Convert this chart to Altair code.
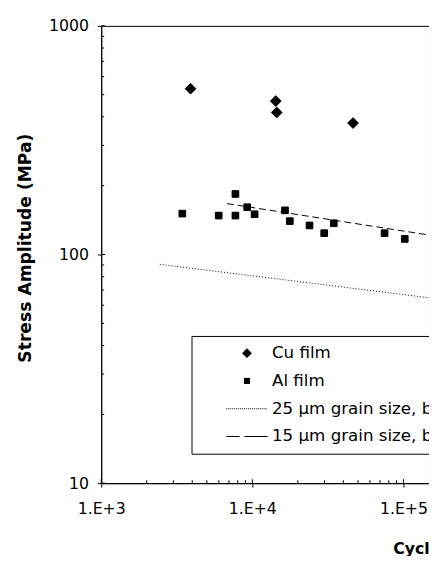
import altair as alt
import pandas as pd

# ---- data ----
cu_cycles = [3900, 14300, 14500, 46400]
cu_stress = [531, 469, 418, 376]
al_cycles = [3440, 5990, 7730, 7730, 9250, 10350, 16450, 17700, 23900, 29900, 34600, 75000, 102000]
al_stress = [151, 148, 184, 148, 161, 150, 156, 140, 134, 124, 137, 124, 117]
g25_cycles = [2440, 1000000]
g25_stress = [90.6, 55.3]
g15_cycles = [6800, 1000000]
g15_stress = [167, 100]
series_names = ["Cu film", "Al film", "25 µm grain size, bulk Cu", "15 µm grain size, bulk Al"]
x_ticks = [1e3, 1e4, 1e5]
y_ticks = [10, 100, 1000]
x_minor = [2e3, 3e3, 4e3, 5e3, 6e3, 7e3, 8e3, 9e3, 2e4, 3e4, 4e4, 5e4, 6e4, 7e4, 8e4, 9e4]
y_minor = [20, 30, 40, 50, 60, 70, 80, 90, 200, 300, 400, 500, 600, 700, 800, 900]

# ---- styling ----
W, H = 334, 466
FONT = "DejaVu Sans"

def seg_path(segs, h=0.1):
    return "".join(
        f"M{a:.2f},{-h}L{b:.2f},{-h}L{b:.2f},{h}L{a:.2f},{h}Z" for a, b in segs
    )

diamond = "M0,-1L1,0L0,1L-1,0Z"
square = "M-0.62,-0.62L0.62,-0.62L0.62,0.62L-0.62,0.62Z"
dotted = seg_path([(-4.2 + i * 0.4, -4.0 + i * 0.4) for i in range(21)])
dashed = seg_path([(-4.2, -1.5), (-0.5, 4.2)])

pts = pd.DataFrame({
    "cycles": cu_cycles + al_cycles,
    "stress": cu_stress + al_stress,
    "series": [series_names[0]] * len(cu_cycles) + [series_names[1]] * len(al_cycles),
})
l25 = pd.DataFrame({"cycles": g25_cycles, "stress": g25_stress})
l15 = pd.DataFrame({"cycles": g15_cycles, "stress": g15_stress})
xmin = pd.DataFrame({"cycles": x_minor})
xmaj = pd.DataFrame({"cycles": x_ticks})
ymin = pd.DataFrame({"stress": y_minor})
ymaj = pd.DataFrame({"stress": y_ticks})

xscale = alt.Scale(type="log", domain=[1000, 147600], nice=False)
yscale = alt.Scale(type="log", domain=[10, 1000], nice=False)

xaxis = alt.Axis(
    title="Cycles to Failure", values=x_ticks,
    labelExpr="'1.E+' + round(log(datum.value)/LN10)",
    labelFont=FONT, labelFontSize=16, labelBaseline="alphabetic", labelPadding=27,
    titleFont=FONT, titleFontSize=16, titleFontWeight="bold",
    titleX=297, titleY=72, titleAlign="left", titleAnchor="start", titleBaseline="alphabetic",
    tickSize=4, grid=False, labelFlush=False, labelOverlap=False,
)
yaxis = alt.Axis(
    title="Stress Amplitude (MPa)", values=y_ticks, format="d",
    labelFont=FONT, labelFontSize=16, labelPadding=9,
    titleFont=FONT, titleFontSize=17.5, titleFontWeight="bold",
    titleX=-72, titleY=226, titleAngle=270, titleAlign="center", titleBaseline="alphabetic",
    tickSize=4, grid=False, labelFlush=False, labelOverlap=False,
)

X = alt.X("cycles:Q", scale=xscale, axis=xaxis)
Y = alt.Y("stress:Q", scale=yscale, axis=yaxis)

points = alt.Chart(pts).mark_point(
    filled=False, fill="black", stroke="black", color="black",
    strokeWidth=1, opacity=1, fillOpacity=1, size=120
).encode(
    x=X, y=Y,
    shape=alt.Shape(
        "series:N",
        scale=alt.Scale(domain=series_names, range=[diamond, square, dotted, dashed]),
        legend=alt.Legend(
            title=None, orient="none", legendX=92, legendY=316, padding=9,
            strokeColor="black", fillColor="white", rowPadding=10.3,
            symbolSize=100, symbolOffset=39, labelOffset=17,
            labelFont=FONT, labelFontSize=17, labelColor="black", labelLimit=600,
            symbolStrokeWidth=1, symbolStrokeColor="black", symbolFillColor="black",
        ),
    ),
)

line25 = alt.Chart(l25).mark_line(
    color="black", strokeWidth=1, strokeDash=[1, 2], clip=True
).encode(x=X, y=Y)
line15 = alt.Chart(l15).mark_line(
    color="black", strokeWidth=1, strokeDash=[7, 4], clip=True
).encode(x=X, y=Y)

tx_minor = alt.Chart(xmin).mark_rule(color="black", strokeWidth=1).encode(
    x=X, y=alt.value(H), y2=alt.value(H - 3))
tx_major = alt.Chart(xmaj).mark_rule(color="black", strokeWidth=1).encode(
    x=X, y=alt.value(H), y2=alt.value(H - 4))
ty_minor = alt.Chart(ymin).mark_rule(color="black", strokeWidth=1).encode(
    y=Y, x=alt.value(0), x2=alt.value(3))
ty_major = alt.Chart(ymaj).mark_rule(color="black", strokeWidth=1).encode(
    y=Y, x=alt.value(0), x2=alt.value(4))

chart = alt.layer(
    line25, line15, tx_minor, tx_major, ty_minor, ty_major, points
).properties(
    width=W, height=H,
    autosize=alt.AutoSizeParams(type="none"),
    padding={"left": 95, "top": 13, "right": 0, "bottom": 69},
    background="white",
).configure_view(
    stroke="black", strokeWidth=1
).configure_axis(
    domainColor="black", tickColor="black", labelColor="black", titleColor="black",
    domainWidth=1, tickWidth=1,
).configure_legend(
    strokeWidth=1, cornerRadius=0
)

chart.save("out.html", embed_options={"renderer": "svg", "actions": False})
